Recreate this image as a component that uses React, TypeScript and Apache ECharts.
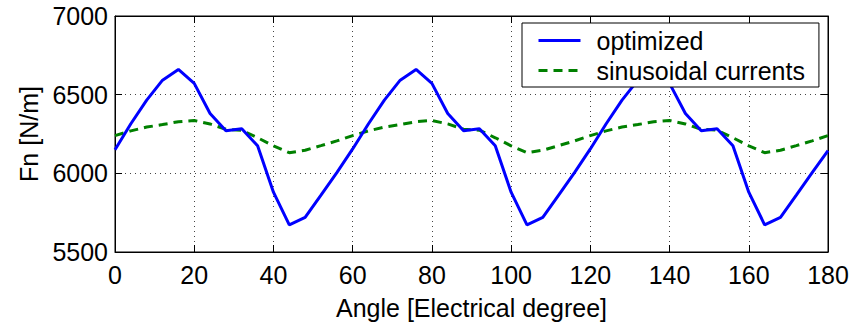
import React, { useEffect, useRef } from "react";
import * as echarts from "echarts";

const angles: number[] = [
  0, 4, 8, 12, 16, 20, 24, 28, 32, 36, 40, 44, 48, 52, 56,
  60, 64, 68, 72, 76, 80, 84, 88, 92, 96, 100, 104, 108, 112, 116,
  120, 124, 128, 132, 136, 140, 144, 148, 152, 156, 160, 164, 168, 172, 176,
  180,
];

const optimized: number[] = [
  6150, 6315, 6465, 6592, 6660, 6572, 6380, 6270, 6283, 6175, 5880, 5673, 5720, 5862, 6005,
  6155, 6315, 6465, 6592, 6660, 6572, 6380, 6270, 6283, 6175, 5880, 5673, 5720, 5862, 6005,
  6155, 6315, 6465, 6592, 6660, 6572, 6380, 6270, 6283, 6175, 5880, 5673, 5720, 5862, 6005,
  6145,
];

const sinusoidal: number[] = [
  6240, 6270, 6294, 6310, 6328, 6336, 6314, 6280, 6274, 6226, 6175, 6131, 6147, 6176, 6206,
  6240, 6270, 6294, 6310, 6328, 6336, 6314, 6280, 6274, 6226, 6175, 6131, 6147, 6176, 6206,
  6240, 6270, 6294, 6310, 6328, 6336, 6314, 6280, 6274, 6226, 6175, 6131, 6147, 6176, 6206,
  6240,
];

const seriesNames = ["optimized", "sinusoidal currents"];
const xTitle = "Angle [Electrical degree]";
const yTitle = "Fn [N/m]";

const FONT = "'Liberation Sans', Arial, Helvetica, sans-serif";

export default function App() {
  const ref = useRef<HTMLDivElement>(null);
  useEffect(() => {
    document.body.style.margin = "0";
    const chart = echarts.init(ref.current!, null, { renderer: "svg" });
    const grid = { left: 115, right: 32, top: 16, bottom: 72 };
    const tick = { show: true, inside: true, length: 7, lineStyle: { color: "#000", width: 1 } };
    const line = { show: true, onZero: false, lineStyle: { color: "#000", width: 1 } };
    const split = { show: true, lineStyle: { color: "#444", width: 1, type: [1, 4] as any } };
    const lbl = { color: "#000", fontSize: 25, fontFamily: FONT };
    chart.setOption({
      animation: false,
      textStyle: { fontFamily: FONT },
      grid: { ...grid, show: true, borderColor: "#000", borderWidth: 1, backgroundColor: "#fff" },
      legend: {
        orient: "vertical",
        left: 522,
        top: 23,
        padding: [5, 14, 4, 15],
        borderColor: "#000",
        borderWidth: 1,
        borderRadius: 0,
        backgroundColor: "#fff",
        itemWidth: 42,
        itemHeight: 24,
        itemGap: 5,
        itemStyle: { opacity: 0 },
        lineStyle: { width: 3 },
        textStyle: { color: "#000", fontSize: 25, fontFamily: FONT, padding: [0, 0, 0, 11] },
        data: seriesNames,
      },
      xAxis: [
        {
          type: "value",
          min: 0,
          max: 180,
          interval: 20,
          position: "bottom",
          axisLine: line,
          axisTick: tick,
          splitLine: split,
          axisLabel: { ...lbl, margin: 10 },
          name: xTitle,
          nameLocation: "middle",
          nameGap: 43,
          nameTextStyle: { ...lbl },
        },
        {
          type: "value",
          min: 0,
          max: 180,
          interval: 20,
          position: "top",
          axisLine: line,
          axisTick: tick,
          splitLine: { show: false },
          axisLabel: { show: false },
        },
      ],
      yAxis: [
        {
          type: "value",
          min: 5500,
          max: 7000,
          interval: 500,
          position: "left",
          axisLine: line,
          axisTick: tick,
          splitLine: split,
          axisLabel: { ...lbl, margin: 7, formatter: (v: number) => String(v) },
          name: yTitle,
          nameLocation: "middle",
          nameGap: 73,
          nameTextStyle: { ...lbl },
        },
        {
          type: "value",
          min: 5500,
          max: 7000,
          interval: 500,
          position: "right",
          axisLine: line,
          axisTick: tick,
          splitLine: { show: false },
          axisLabel: { show: false },
        },
      ],
      series: [
        {
          name: seriesNames[0],
          type: "line",
          symbol: "none",
          data: angles.map((a, i) => [a, optimized[i]]),
          lineStyle: { color: "#0000ff", width: 3 },
          itemStyle: { color: "#0000ff" },
          z: 3,
        },
        {
          name: seriesNames[1],
          type: "line",
          symbol: "none",
          data: angles.map((a, i) => [a, sinusoidal[i]]),
          lineStyle: { color: "#008000", width: 3, type: [9, 6] },
          itemStyle: { color: "#008000" },
          z: 2,
        },
      ],
    });
    return () => chart.dispose();
  }, []);
  return <div ref={ref} style={{ position: "absolute", left: 0, top: 0, width: 860, height: 325 }} />;
}
